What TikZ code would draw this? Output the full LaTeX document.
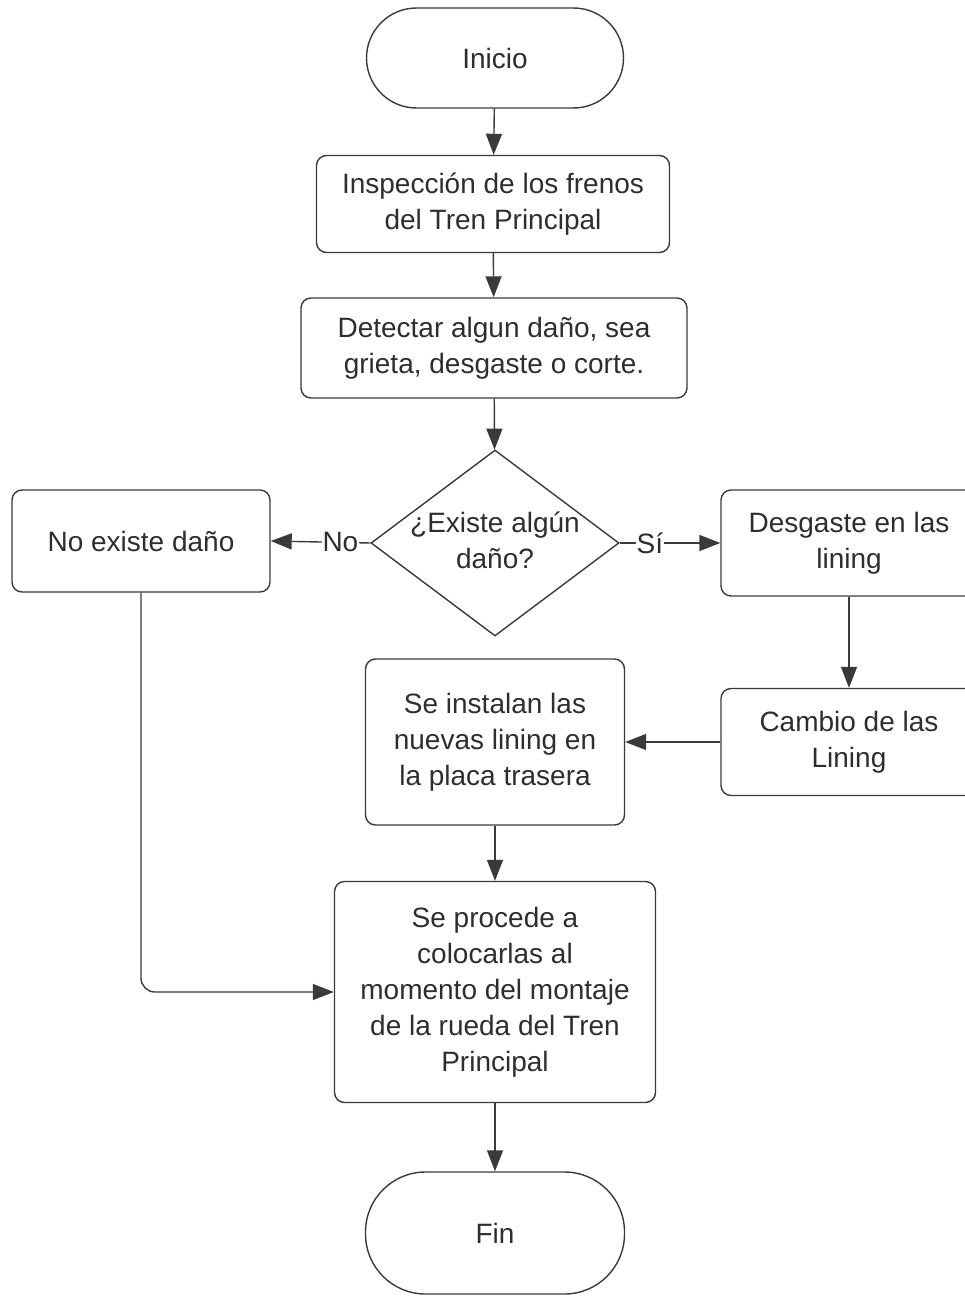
\documentclass[tikz,border=0pt]{standalone}
\usepackage{fontspec}
\setmainfont{Liberation Sans}
\usetikzlibrary{shapes.geometric,arrows.meta}
\definecolor{ln}{HTML}{3A3A3A}
\definecolor{tx}{HTML}{2E2E2E}
\begin{document}
\begin{tikzpicture}[x=1pt,y=-1pt,
  every node/.style={text=tx,font=\fontsize{28}{36}\selectfont},
  box/.style={draw=ln,line width=1.4pt,rectangle,rounded corners=10pt,align=center,inner sep=0pt},
  term/.style={draw=ln,line width=1.4pt,rectangle,align=center,inner sep=0pt},
  conn/.style={draw=ln,line width=1.4pt,-{Triangle[length=21pt,width=16pt]}},
  lbl/.style={fill=white,inner sep=0.5pt}]
\useasboundingbox (0,0) rectangle (965,1297);
\clip (0,0) rectangle (965,1297);
\node[term,rounded corners=50pt,minimum width=257pt,minimum height=100pt] (ini) at (495,58) {Inicio};
\node[box,minimum width=353pt,minimum height=97pt] (b1) at (493,204) {Inspección de los frenos\\del Tren Principal};
\node[box,minimum width=386pt,minimum height=100pt] (b2) at (494,348) {Detectar algun daño, sea\\grieta, desgaste o corte.};
\node[draw=ln,line width=1.4pt,diamond,minimum width=248pt,minimum height=186pt,inner sep=0pt] (dec) at (495,543) {};
\node[align=center,inner sep=0pt] (dect) at (495,540) {¿Existe algún\\daño?};
\node[box,minimum width=258pt,minimum height=102pt] (no) at (141,541) {No existe daño};
\node[box,minimum width=256pt,minimum height=106pt] (si) at (849,543) {Desgaste en las\\lining};
\node[box,minimum width=256pt,minimum height=107pt] (cam) at (849,742) {Cambio de las\\Lining};
\node[box,minimum width=259pt,minimum height=166pt] (inst) at (495,742) {Se instalan las\\nuevas lining en\\la placa trasera};
\node[box,minimum width=321pt,minimum height=221pt] (proc) at (495,992) {Se procede a\\colocarlas al\\momento del montaje\\de la rueda del Tren\\Principal};
\node[term,rounded corners=60pt,minimum width=259pt,minimum height=122pt] (fin) at (495,1233) {Fin};
\draw[conn] (ini) -- (b1);
\draw[conn] (b1) -- (b2);
\draw[conn] (b2) -- (dec);
\draw[conn] (dec.west) -- node[lbl,pos=0.3] {No} (no.east);
\draw[conn] (dec.east) -- node[lbl,pos=0.3] {Sí} (si.west);
\draw[conn] (si) -- (cam);
\draw[conn] (cam.west) -- (inst.east);
\draw[conn] (inst) -- (proc);
\draw[conn,rounded corners=14pt] (no.south) |- (proc.west);
\draw[conn] (proc) -- (fin);
\end{tikzpicture}
\end{document}
